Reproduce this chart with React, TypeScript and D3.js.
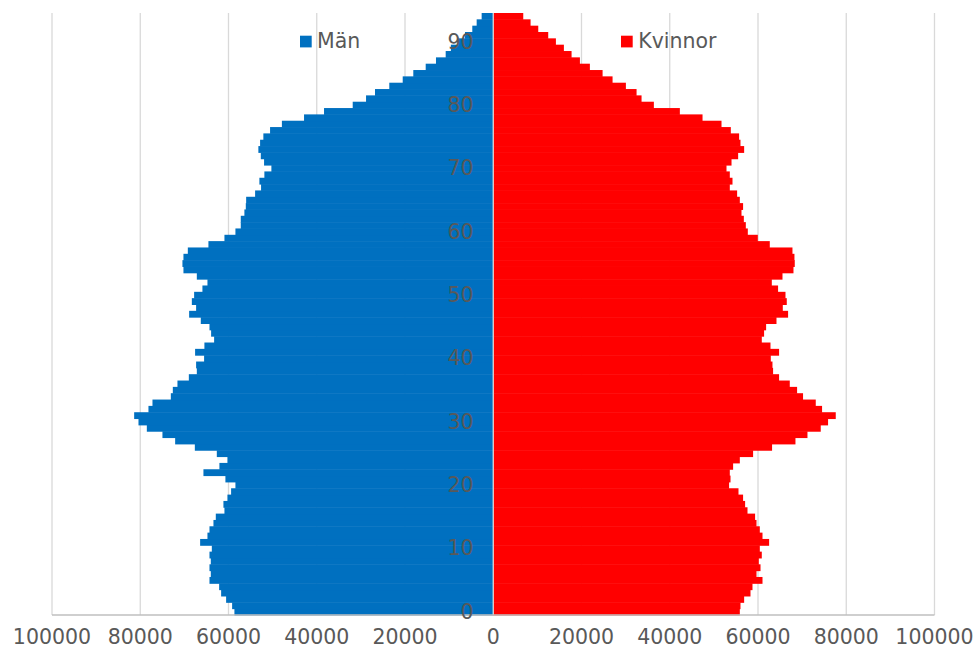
import React from "react";
import * as d3 from "d3";

const ages: number[] = Array.from({ length: 95 }, (_, i) => i);

const men: number[] = [
  58660, 59180, 60540, 61670, 62120, 64310, 64010, 64310, 64010, 64310,
  63780, 66430, 64770, 64310, 63410, 62880, 60920, 61150, 60240, 59410,
  58430, 60700, 65680, 62060, 60240, 62650, 67630, 72090, 74970, 78510,
  80400, 81380, 78140, 77230, 73070, 72620, 71570, 68990, 67180, 67340,
  65530, 67570, 65460, 63260, 63940, 64310, 66280, 68920, 67340, 68310,
  67790, 65910, 64770, 67180, 70210, 70440, 70210, 69220, 64550, 60920,
  58430, 57220, 57220, 56400, 56080, 56000, 53970, 52620, 53000, 51870,
  50280, 51940, 52680, 53230, 52840, 52100, 50580, 47900, 42880, 38350,
  31850, 28830, 26800, 23560, 20520, 18120, 15310, 12980, 10780, 9600,
  8000, 6400, 4750, 3760, 2630,
];

const women: number[] = [
  55880, 56030, 56860, 58300, 58750, 61020, 59660, 60570, 60180, 60860,
  60410, 62520, 61020, 60410, 59660, 59340, 57620, 57080, 56620, 55580,
  53450, 53770, 53610, 54360, 55880, 58890, 63190, 68490, 71210, 74220,
  75880, 77620, 74520, 73090, 70210, 68860, 67200, 64780, 63420, 63280,
  62900, 64780, 62830, 60860, 61380, 61840, 64190, 66820, 65620, 66520,
  66230, 64550, 63130, 65550, 68040, 68330, 68260, 67810, 62670, 59960,
  57690, 57240, 56790, 56260, 56620, 55880, 55270, 53610, 54220, 53610,
  52860, 54000, 55500, 56860, 56030, 55720, 53840, 51730, 47430, 42290,
  36400, 33610, 32480, 30060, 27040, 24780, 21900, 19640, 17750, 16010,
  14200, 12460, 10200, 8460, 6800,
];

const xTicks: number[] = [-100000, -80000, -60000, -40000, -20000, 0, 20000, 40000, 60000, 80000, 100000];
const ageLabels: number[] = [0, 10, 20, 30, 40, 50, 60, 70, 80, 90];
const seriesNames: string[] = ["Män", "Kvinnor"];
const seriesColors: string[] = ["#0070C0", "#FF0000"];

export default function App() {
  const W = 978;
  const H = 657;
  const left = 52;
  const right = 934.5;
  const top = 13;
  const bottom = 615;

  const x = d3.scaleLinear().domain([-100000, 100000]).range([left, right]);
  const y = d3
    .scaleBand<number>()
    .domain(ages)
    .range([bottom, top])
    .padding(0);
  const bw = y.bandwidth();
  const x0 = x(0);
  const font = "'DejaVu Sans', sans-serif";
  const textColor = "#595959";

  return (
    <svg
      width={W}
      height={H}
      style={{ position: "absolute", left: 0, top: 0, background: "#fff" }}
      fontFamily={font}
    >
      <rect x={0} y={0} width={W} height={H} fill="#fff" />
      {xTicks.map((t) => (
        <line
          key={"g" + t}
          x1={x(t)}
          x2={x(t)}
          y1={top}
          y2={bottom}
          stroke="#d9d9d9"
          strokeWidth={1.3}
        />
      ))}
      {ages.map((a, i) => (
        <rect
          key={"m" + a}
          x={x(-men[i])}
          y={y(a)!}
          width={x0 - x(-men[i])}
          height={bw + 0.5}
          fill={seriesColors[0]}
        />
      ))}
      {ages.map((a, i) => (
        <rect
          key={"w" + a}
          x={x0}
          y={y(a)!}
          width={x(women[i]) - x0}
          height={bw + 0.5}
          fill={seriesColors[1]}
        />
      ))}
      <line x1={x0} x2={x0} y1={top} y2={bottom} stroke="#d9d9d9" strokeWidth={1.3} />
      <line x1={left} x2={right} y1={bottom} y2={bottom} stroke="#bfbfbf" strokeWidth={1.3} />
      {ageLabels.map((a) => (
        <text
          key={"a" + a}
          x={473.5}
          y={y(a)! + bw / 2 + 7}
          textAnchor="end"
          fontSize={20.5}
          fill={textColor}
        >
          {a}
        </text>
      ))}
      {xTicks.map((t) => (
        <text
          key={"t" + t}
          x={x(t)}
          y={644}
          textAnchor="middle"
          fontSize={20.5}
          fill={textColor}
        >
          {Math.abs(t)}
        </text>
      ))}
      <rect x={300} y={35.7} width={11.7} height={11.7} fill={seriesColors[0]} />
      <text x={317} y={48.3} fontSize={20.5} fill={textColor}>
        {seriesNames[0]}
      </text>
      <rect x={621} y={35.7} width={11.7} height={11.7} fill={seriesColors[1]} />
      <text x={638.3} y={48.3} fontSize={20.5} fill={textColor}>
        {seriesNames[1]}
      </text>
    </svg>
  );
}
